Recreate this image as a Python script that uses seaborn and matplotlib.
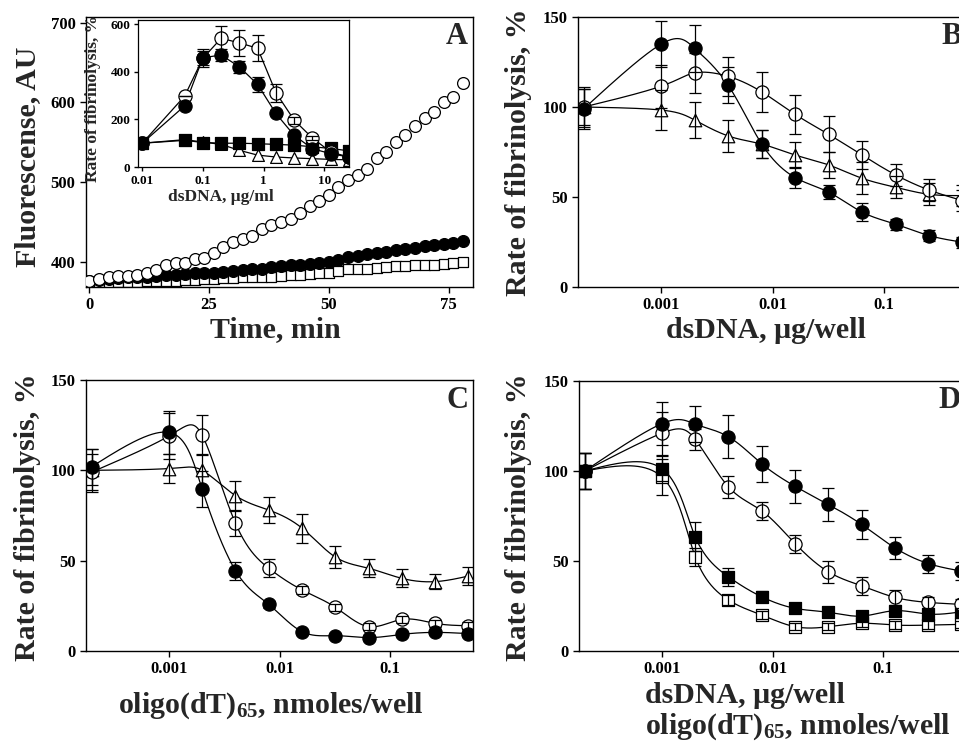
import numpy as np
import pandas as pd
import matplotlib
matplotlib.use("Agg")
import matplotlib.pyplot as plt
import seaborn as sns

sns.set_style("ticks")
plt.rcParams["font.family"] = ["Liberation Serif", "DejaVu Serif"]
plt.rcParams["font.weight"] = "bold"
plt.rcParams["mathtext.fontset"] = "custom"
plt.rcParams["mathtext.rm"] = "Liberation Serif:bold"
plt.rcParams["mathtext.bf"] = "Liberation Serif:bold"
plt.rcParams["mathtext.it"] = "Liberation Serif:bold"

# ---------------- Panel A: kinetics ----------------
time_min = [0, 2, 4, 6, 8, 10, 12, 14, 16, 18, 20, 22, 24, 26, 28, 30, 32, 34, 36, 38,
            40, 42, 44, 46, 48, 50, 52, 54, 56, 58, 60, 62, 64, 66, 68, 70, 72, 74, 76, 78]
fluor_open_circle = [377, 379, 382, 383, 383, 384, 386, 390, 397, 399, 399, 404, 405, 412, 419, 425,
                     429, 433, 442, 446, 450, 454, 462, 470, 477, 484, 494, 503, 509, 517, 530, 538,
                     550, 559, 571, 580, 588, 601, 607, 624]
fluor_filled_circle = [377, 378, 379, 380, 381, 382, 382, 383, 384, 384, 385, 386, 386, 387, 388, 389,
                       390, 391, 392, 394, 395, 396, 397, 398, 399, 400, 403, 407, 408, 410, 412, 413,
                       415, 417, 418, 420, 421, 423, 424, 426]
fluor_open_square = [374, 374, 374, 375, 375, 375, 376, 376, 377, 377, 378, 378, 379, 379, 380, 380,
                     381, 381, 382, 382, 383, 384, 384, 385, 386, 387, 389, 391, 391, 392, 393, 394,
                     395, 395, 396, 397, 397, 398, 399, 400]
a_xticks = [0, 25, 50, 75]
a_yticks = [400, 500, 600, 700]

# ---------------- Panel A inset ----------------
inset_dna = [0.01, 0.05, 0.1, 0.2, 0.4, 0.8, 1.6, 3.2, 6.4, 12.8, 25.6]
inset_open_circle = [100, 298, 457, 541, 522, 499, 313, 197, 122, 63, 42]
inset_open_circle_err = [0, 0, 38, 52, 56, 55, 38, 15, 10, 0, 0]
inset_filled_circle = [100, 257, 459, 471, 421, 347, 225, 133, 77, 56, 42]
inset_filled_circle_err = [0, 0, 30, 25, 25, 30, 0, 0, 0, 0, 0]
inset_filled_square = [100, 112, 103, 100, 100, 98, 95, 92, 85, 78, 68]
inset_open_triangle = [100, 115, 105, 95, 70, 50, 42, 38, 35, 32, 30]
inset_xticks = [0.01, 0.1, 1, 10]
inset_xticklabels = ["0.01", "0.1", "1", "10"]
inset_yticks = [0, 200, 400, 600]

# ---------------- Panels B, C, D ----------------
dose = [0.0002, 0.001, 0.002, 0.004, 0.008, 0.016, 0.032, 0.064, 0.128, 0.256, 0.512]
dose_ticks = [0.001, 0.01, 0.1]
dose_ticklabels = ["0.001", "0.01", "0.1"]
rate_yticks = [0, 50, 100, 150]

b_filled_circle = [99, 135, 132.5, 112, 79.4, 60.8, 52.7, 41.6, 34.9, 28.6, 24.9]
b_filled_circle_err = [11, 13, 13, 10, 8, 6, 4, 5, 3, 3, 3]
b_open_circle = [100, 111.6, 119, 117, 108.4, 95.9, 84.8, 73.3, 62.3, 53.9, 48]
b_open_circle_err = [11, 12, 11, 11, 11, 11, 10, 8, 6, 6, 6]
b_open_triangle = [100, 98.3, 92.7, 83.9, 79.4, 73.3, 67.8, 60.4, 55.4, 51.5, 50.8]
b_open_triangle_err = [10, 11, 10, 9, 8, 7, 7, 9, 6, 6, 6]

c_filled_circle = [102, 121, 89.5, 44.5, 25.8, 10.7, 8.5, 7.4, 9.2, 10.3, 9.6]
c_filled_circle_err = [10, 12, 10, 5, 2, 1, 1, 1, 1, 1, 1]
c_open_circle = [99, 119, 119.4, 70.7, 45.8, 33.8, 24.2, 13.5, 17.5, 15.3, 14]
c_open_circle_err = [10, 13, 11, 7, 5, 2, 2, 2, 2, 2, 2]
c_open_triangle = [100, 101, 100, 86, 78, 68, 52, 45.8, 40.2, 38.4, 41.5]
c_open_triangle_err = [12, 8, 9, 8, 7, 8, 6, 5, 5, 4, 5]

d_filled_circle = [100, 126.3, 126, 119, 104, 91.5, 81.4, 70.3, 57.3, 48.6, 44.4]
d_filled_circle_err = [10, 12, 10, 12, 10, 9, 9, 8, 6, 5, 5]
d_open_circle = [100, 121, 117.6, 91.2, 77.9, 59.7, 44, 36.2, 29.8, 27, 25.9]
d_open_circle_err = [10, 12, 6, 6, 5, 5, 6, 5, 4, 3, 3]
d_filled_square = [100, 101.3, 63.4, 41.2, 30.1, 23.7, 21.5, 19.4, 22.4, 20.5, 21.8]
d_filled_square_err = [10, 7, 8, 5, 3, 2, 2, 2, 2, 2, 2]
d_open_square = [100, 96.7, 52.3, 28.3, 20, 13.5, 13.5, 15.4, 14.4, 14.4, 14.8]
d_open_square_err = [10, 10, 5, 3, 2, 2, 2, 2, 2, 2, 2]

W, H = 959, 743
fig = plt.figure(figsize=(W / 100, H / 100), dpi=100)


def rect(left, top, right, bottom):
    return [left / W, 1 - bottom / H, (right - left) / W, (bottom - top) / H]


def spline_coeffs(t, y):
    m = len(t)
    h = np.diff(t)
    A = np.zeros((m, m))
    r = np.zeros(m)
    A[0, 0] = 1
    A[-1, -1] = 1
    for i in range(1, m - 1):
        A[i, i - 1] = h[i - 1]
        A[i, i] = 2 * (h[i - 1] + h[i])
        A[i, i + 1] = h[i]
        r[i] = 3 * ((y[i + 1] - y[i]) / h[i] - (y[i] - y[i - 1]) / h[i - 1])
    c = np.linalg.solve(A, r)
    b = (y[1:] - y[:-1]) / h - h * (2 * c[:-1] + c[1:]) / 3
    d = (c[1:] - c[:-1]) / (3 * h)
    return b, c, d


def eval_spline(t, y, b, c, d, ts):
    idx = np.clip(np.searchsorted(t, ts) - 1, 0, len(t) - 2)
    dt = ts - t[idx]
    return y[idx] + b[idx] * dt + c[idx] * dt ** 2 + d[idx] * dt ** 3


def parametric_curve(x, y, n=600):
    """Smooth display curve through the data points (natural cubic, index-parametrised)."""
    u = np.log10(np.asarray(x, float))
    v = np.asarray(y, float)
    t = np.arange(len(u), dtype=float)
    ts = np.linspace(0, t[-1], n)
    us = eval_spline(t, u, *spline_coeffs(t, u), ts)
    vs = eval_spline(t, v, *spline_coeffs(t, v), ts)
    return 10 ** us, vs


def series(ax, x, y, err, marker, filled, ms, smooth=True, straight=False, capsize=4.5):
    df = pd.DataFrame({"x": x, "y": y})
    if smooth:
        xs, ys = parametric_curve(x, y)
        ax.plot(xs, ys, color="black", lw=0.9, zorder=1)
    if straight:
        sns.lineplot(data=df, x="x", y="y", ax=ax, color="black", lw=0.9, zorder=1,
                     legend=False, estimator=None, sort=False)
    if err is not None:
        ax.errorbar(x, y, yerr=err, fmt="none", ecolor="black", elinewidth=0.9,
                    capsize=capsize, capthick=0.9, zorder=3)
    sns.scatterplot(data=df, x="x", y="y", ax=ax, marker=marker, s=ms ** 2,
                    color="black" if filled else "white", edgecolor="black",
                    linewidth=0.9, zorder=2, legend=False)


def style_axes(ax, tick_size=12):
    for s in ax.spines.values():
        s.set_visible(True)
        s.set_linewidth(1.0)
        s.set_color("black")
    ax.tick_params(direction="out", length=4, width=1, labelsize=tick_size, colors="black")
    ax.tick_params(which="minor", length=0)
    for lab in ax.get_xticklabels() + ax.get_yticklabels():
        lab.set_fontweight("bold")
    ax.set_xlabel("")
    ax.set_ylabel("")


def panel_letter(ax, letter, dx_px, width_px, height_px):
    ax.text(1 - dx_px / width_px, 1 - 20 / height_px, letter, transform=ax.transAxes,
            ha="right", va="center", fontsize=22, fontweight="bold", zorder=5)


# ---- A ----
axA = fig.add_axes(rect(86, 17, 473, 287))
dfA = pd.DataFrame({"t": time_min, "open": fluor_open_circle,
                    "filled": fluor_filled_circle, "square": fluor_open_square})
sns.scatterplot(data=dfA, x="t", y="square", ax=axA, marker="s", s=7.5 ** 2, color="white",
                edgecolor="black", linewidth=0.9, legend=False, zorder=2)
sns.scatterplot(data=dfA, x="t", y="filled", ax=axA, marker="o", s=8.5 ** 2, color="black",
                edgecolor="black", linewidth=0.9, legend=False, zorder=3)
sns.scatterplot(data=dfA, x="t", y="open", ax=axA, marker="o", s=8.5 ** 2, color="white",
                edgecolor="black", linewidth=0.9, legend=False, zorder=4)
axA.set_xlim(-0.7, 80.1)
axA.set_ylim(369, 707)
axA.set_xticks(a_xticks)
axA.set_xticklabels([str(v) for v in a_xticks])
axA.set_yticks(a_yticks)
axA.set_yticklabels([str(v) for v in a_yticks])
style_axes(axA)
panel_letter(axA, "A", 5, 387, 270)

# ---- inset ----
axI = fig.add_axes(rect(138, 20, 349, 167))
axI.set_facecolor("white")
axI.set_zorder(10)
axI.set_xscale("log")
series(axI, inset_dna, inset_open_triangle, None, "^", False, 8.5, smooth=False, straight=True)
series(axI, inset_dna, inset_filled_square, None, "s", True, 8.5, smooth=False, straight=True)
series(axI, inset_dna, inset_open_circle, inset_open_circle_err, "o", False, 9.5, smooth=False,
       straight=True, capsize=4)
series(axI, inset_dna, inset_filled_circle, inset_filled_circle_err, "o", True, 9.5, smooth=False,
       straight=True, capsize=4)
axI.set_xlim(10 ** (-2.07), 10 ** 1.41)
axI.set_ylim(0, 618)
axI.set_xticks(inset_xticks)
axI.set_xticklabels(inset_xticklabels)
axI.set_yticks(inset_yticks)
axI.set_yticklabels([str(v) for v in inset_yticks])
style_axes(axI, tick_size=9.5)
axI.tick_params(length=3, pad=2.5)
for s in axI.spines.values():
    s.set_linewidth(0.9)
fig.text(93 / W, 1 - 99 / H, "Rate of fibrinolysis, %", rotation=90, ha="center", va="center",
         fontsize=12.5, fontweight="bold")
fig.text(221 / W, 1 - 201 / H, "dsDNA, \u03bcg/ml", ha="center", va="baseline",
         fontsize=12.5, fontweight="bold")

xlim_dose = (10 ** (-3.75), 10 ** (-0.25))

# ---- B ----
axB = fig.add_axes(rect(578, 17, 967, 287))
axB.set_xscale("log")
series(axB, dose, b_open_triangle, b_open_triangle_err, "^", False, 9)
series(axB, dose, b_open_circle, b_open_circle_err, "o", False, 9.5)
series(axB, dose, b_filled_circle, b_filled_circle_err, "o", True, 9.5)
panel_letter(axB, "B", 5, 389, 270)

# ---- C ----
axC = fig.add_axes(rect(86, 380, 473, 651))
axC.set_xscale("log")
series(axC, dose, c_open_triangle, c_open_triangle_err, "^", False, 9)
series(axC, dose, c_open_circle, c_open_circle_err, "o", False, 9.5)
series(axC, dose, c_filled_circle, c_filled_circle_err, "o", True, 9.5)
panel_letter(axC, "C", 5, 387, 271)

# ---- D ----
axD = fig.add_axes(rect(579, 381, 966, 651))
axD.set_xscale("log")
series(axD, dose, d_open_square, d_open_square_err, "s", False, 8.5)
series(axD, dose, d_filled_square, d_filled_square_err, "s", True, 8.5)
series(axD, dose, d_open_circle, d_open_circle_err, "o", False, 9.5)
series(axD, dose, d_filled_circle, d_filled_circle_err, "o", True, 9.5)
panel_letter(axD, "D", 5, 387, 270)

for ax in (axB, axC, axD):
    ax.set_xlim(*xlim_dose)
    ax.set_ylim(0, 150)
    ax.set_xticks(dose_ticks)
    ax.set_xticklabels(dose_ticklabels)
    ax.set_yticks(rate_yticks)
    ax.set_yticklabels([str(v) for v in rate_yticks])
    style_axes(ax)

# ---- axis labels ----
LS = 21.5
fig.text(28 / W, 1 - 157 / H, "Fluorescense, AU", rotation=90, ha="center", va="center",
         fontsize=LS, fontweight="bold")
fig.text(275 / W, 1 - 337 / H, "Time, min", ha="center", va="baseline", fontsize=LS,
         fontweight="bold")
fig.text(519 / W, 1 - 152 / H, "Rate of fibrinolysis, %", rotation=90, ha="center",
         va="center", fontsize=LS, fontweight="bold")
fig.text(766 / W, 1 - 338 / H, "dsDNA, \u03bcg/well", ha="center", va="baseline",
         fontsize=LS, fontweight="bold")
fig.text(28 / W, 1 - 517 / H, "Rate of fibrinolysis, %", rotation=90, ha="center",
         va="center", fontsize=LS, fontweight="bold")
fig.text(271 / W, 1 - 713 / H, "oligo(dT)$_{65}$, nmoles/well", ha="center", va="baseline",
         fontsize=LS, fontweight="bold")
fig.text(519 / W, 1 - 517 / H, "Rate of fibrinolysis, %", rotation=90, ha="center",
         va="center", fontsize=LS, fontweight="bold")
fig.text(645 / W, 1 - 703 / H, "dsDNA, \u03bcg/well", ha="left", va="baseline",
         fontsize=LS, fontweight="bold")
fig.text(645 / W, 1 - 734 / H, "oligo(dT)$_{65}$, nmoles/well", ha="left", va="baseline",
         fontsize=LS, fontweight="bold")

fig.savefig("out.png", dpi=100, facecolor="white")
